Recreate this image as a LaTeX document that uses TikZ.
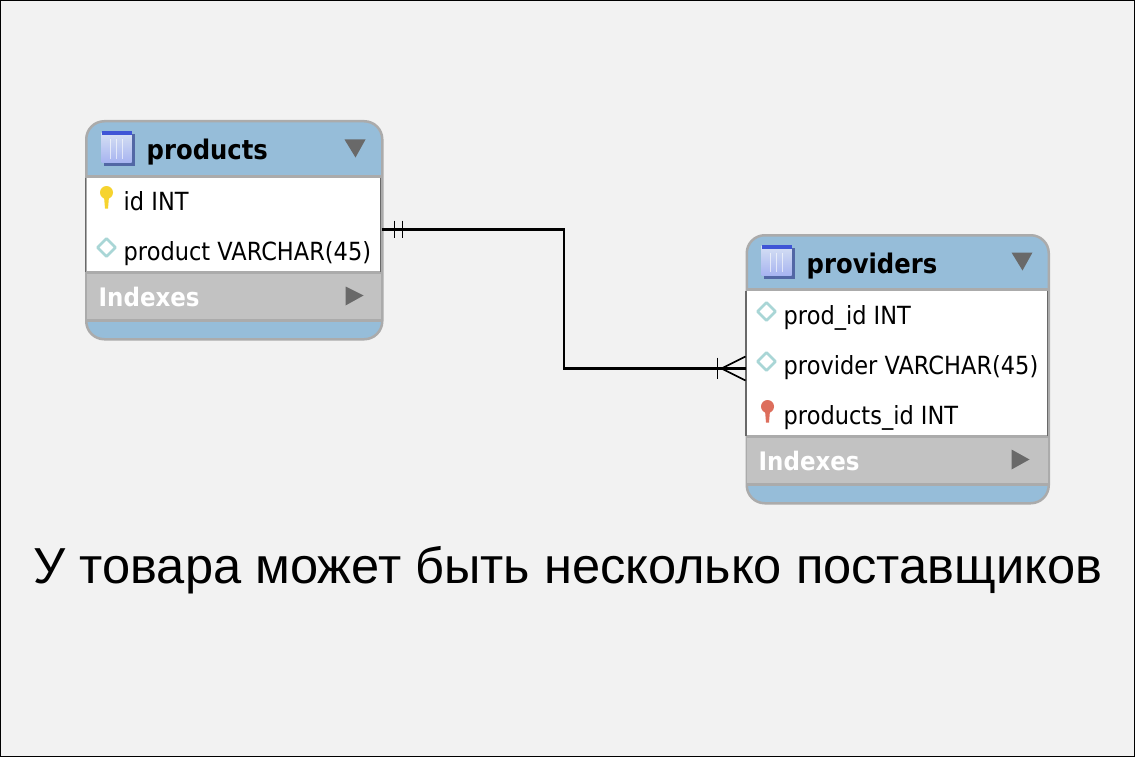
\documentclass[tikz,border=0pt]{standalone}
\usepackage{fontspec}
\setmainfont{Liberation Sans}
\newfontfamily\erfont[FakeStretch=0.9]{DejaVu Sans}
\usetikzlibrary{shapes.geometric}

\definecolor{headblue}{HTML}{96BDD9}
\definecolor{rimgray}{HTML}{ABABAB}
\definecolor{indexgray}{HTML}{C2C2C2}
\definecolor{markgray}{HTML}{696969}
\definecolor{paper}{HTML}{F2F2F2}
\definecolor{keyyellow}{HTML}{F6D32E}
\definecolor{keyred}{HTML}{DD6E5C}
\definecolor{fieldteal}{HTML}{A9D6D6}
\definecolor{iconblue}{HTML}{C4D3EE}
\definecolor{iconbar}{HTML}{3F55D6}

\tikzset{
  tablebox/.style={draw=rimgray, line width=2.5pt, rounded corners=18pt, inner sep=0pt, anchor=north west},
  titletext/.style={inner sep=0pt, anchor=base west, font=\erfont\bfseries\fontsize{27}{30}\selectfont},
  rowtext/.style={inner sep=0pt, anchor=base west, font=\erfont\fontsize{25}{28}\selectfont},
  indextext/.style={inner sep=0pt, anchor=base west, text=white, font=\erfont\bfseries\fontsize{25.5}{28}\selectfont},
  captiontext/.style={inner sep=0pt, anchor=base, font=\fontsize{50.6}{60}\selectfont},
  relline/.style={line width=2.2pt},
  tableicon/.pic={
    \fill[black!60!blue, opacity=0.45] (-13,-13) rectangle (18,18);
    \shade[top color=iconblue!70!white, bottom color=iconblue!85!blue] (-15,-15) rectangle (15,15);
    \fill[iconbar] (-15,-16) rectangle (15,-12);
    \foreach \xcol in {-6,0,6} \draw[white, opacity=0.6, line width=1pt] (\xcol,-8) -- (\xcol,11);
  },
  keyicon/.pic={
    \fill[#1] (-2.5,0) -- (2.5,0) -- (1.5,12) -- (-1.5,12) -- cycle;
    \fill[#1] (0,-4) circle (6.5);
  },
  fieldicon/.pic={
    \draw[fieldteal, fill=white, line width=2.8pt, line join=round] (0,-9) -- (9,0) -- (0,9) -- (-9,0) -- cycle;
  }
}

\begin{document}
\begin{tikzpicture}[x=1pt,y=-1pt]
  \node[draw=black, fill=paper, line width=1pt, minimum width=1134pt, minimum height=756pt, anchor=north west, inner sep=0pt] (frame) at (0.5,0.5) {};

  % products
  \node[tablebox, fill=headblue, minimum width=296pt, minimum height=218pt] (products) at (85.5,120.5) {};
  \fill[white] (87,177) rectangle (381,272);
  \fill[indexgray] (87,273) rectangle (381,321);
  \draw[rimgray, line width=2.5pt] (87,177) -- (381,177) (87,273) -- (381,273) (87,321) -- (381,321);
  \draw[markgray, line width=1.5pt] (86,178) -- (86,272) (381,178) -- (381,272);
  \pic at (117,148) {tableicon};
  \fill[markgray] (345,140) -- (366,140) -- (356,158) -- cycle;
  \node[titletext] (prodtitle) at (147,160.5) {products};
  \pic at (107,197) {keyicon=keyyellow};
  \node[rowtext] (prodid) at (124,210.5) {id INT};
  \pic at (107,248) {fieldicon};
  \node[rowtext] (prodname) at (124,260.5) {product VARCHAR(45)};
  \node[indextext] (prodindex) at (99,306.5) {Indexes};
  \fill[markgray] (346,287) -- (364,296) -- (346,306) -- cycle;

  % providers
  \node[tablebox, fill=headblue, minimum width=302pt, minimum height=268pt] (providers) at (746,234.5) {};
  \fill[white] (747,290) rectangle (1048,436);
  \fill[indexgray] (747,437) rectangle (1048,485);
  \draw[rimgray, line width=2.5pt] (747,290) -- (1048,290) (747,437) -- (1048,437) (747,485) -- (1048,485);
  \draw[markgray, line width=1.5pt] (746.5,291) -- (746.5,436) (1048,291) -- (1048,436);
  \pic at (777,261) {tableicon};
  \fill[markgray] (1012,253) -- (1033,253) -- (1023,271) -- cycle;
  \node[titletext] (provtitle) at (807,273.5) {providers};
  \pic at (767,312) {fieldicon};
  \node[rowtext] (provprod) at (784,324.5) {prod\_id INT};
  \pic at (767,362) {fieldicon};
  \node[rowtext] (provname) at (784,374.5) {provider VARCHAR(45)};
  \pic at (768,411) {keyicon=keyred};
  \node[rowtext] (provlink) at (784,424.5) {products\_id INT};
  \node[indextext] (provindex) at (759,470.5) {Indexes};
  \fill[markgray] (1012,450) -- (1030,460) -- (1012,470) -- cycle;

  % relation
  \coordinate (relfrom) at (382,230);
  \coordinate (relbend) at (564.5,300);
  \coordinate (relto) at (746,369);
  \draw[relline] (relfrom) -| (relbend) |- (relto);
  \draw[relline, line width=1.6pt] (395,221) -- (395,238) (403,221) -- (403,238);
  \draw[relline, line width=1.6pt] (718,358) -- (718,379);
  \draw[relline, line width=1.6pt] (746,357) -- (722,369) -- (746,381);

  \node[captiontext] (caption) at (568.5,584) {У товара может быть несколько поставщиков};
\end{tikzpicture}
\end{document}
